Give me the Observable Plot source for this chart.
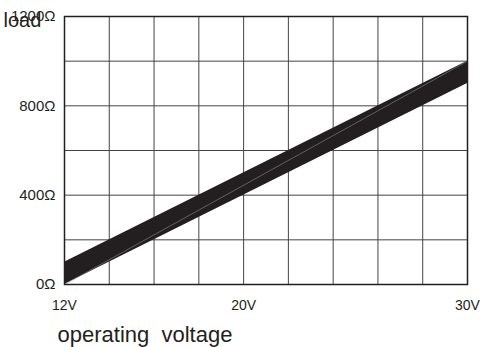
<!DOCTYPE html>
<html>
<head>
<meta charset="utf-8">
<script src="https://cdn.jsdelivr.net/npm/d3@7"></script>
<script src="https://cdn.jsdelivr.net/npm/@observablehq/plot@0.6"></script>
<style>
  html, body { margin: 0; padding: 0; background: #fff; }
  svg { display: block; }
</style>
</head>
<body>
<div id="chart"></div>
<script>
// Data
const voltages = [12, 30];            // operating voltage (V)
const loadLow = [0, 900];             // lower edge of band (Ω)
const loadHigh = [100, 1000];         // upper edge of band (Ω)
const xGridTicks = [12, 14, 16, 18, 20, 22, 24, 26, 28, 30];
const yGridTicks = [0, 200, 400, 600, 800, 1000, 1200];
const xTickLabels = [12, 20, 30];
const yTickLabels = [0, 400, 800, 1200];
const xTitle = "operating  voltage";
const yTitle = "load";

const band = voltages.map((v, i) => ({v, lo: loadLow[i], hi: loadHigh[i]}));
const seam = [{v: voltages[0], r: loadLow[0]}, {v: voltages[1], r: loadHigh[1]}];

const font = "'Liberation Sans', Arial, Helvetica, sans-serif";
const ink = "#231f20";

const chart = Plot.plot({
  width: 480,
  height: 347,
  marginLeft: 64,
  marginTop: 16,
  marginRight: 13,
  marginBottom: 63,
  style: {fontFamily: font, color: ink, background: "#fff"},
  x: {domain: [12, 30], axis: null},
  y: {domain: [0, 1200], axis: null},
  marks: [
    Plot.ruleX(xGridTicks, {stroke: "#444", strokeWidth: 1}),
    Plot.ruleY(yGridTicks, {stroke: "#444", strokeWidth: 1}),
    Plot.areaY(band, {x: "v", y1: "lo", y2: "hi", fill: ink}),
    Plot.line(seam, {x: "v", y: "r", stroke: "#8a8a8a", strokeWidth: 0.6}),
    Plot.frame({stroke: ink, strokeWidth: 1.5}),
    Plot.axisY({ticks: yTickLabels, tickSize: 0, tickPadding: 9, fontSize: 15,
      tickFormat: d => d + "Ω", label: null, fill: ink}),
    Plot.axisX({ticks: xTickLabels, tickSize: 0, tickPadding: 16, fontSize: 14,
      tickFormat: d => d + "V", label: null, fill: ink}),
    Plot.text([xTitle], {frameAnchor: "bottom-left", dx: -7, dy: 57, textAnchor: "start",
      lineAnchor: "bottom", fontSize: 22, fill: ink}),
    Plot.text([yTitle], {frameAnchor: "top-left", dx: -61, dy: 10, textAnchor: "start",
      lineAnchor: "bottom", fontSize: 20, fill: ink})
  ]
});
document.getElementById("chart").appendChild(chart);
</script>
</body>
</html>
